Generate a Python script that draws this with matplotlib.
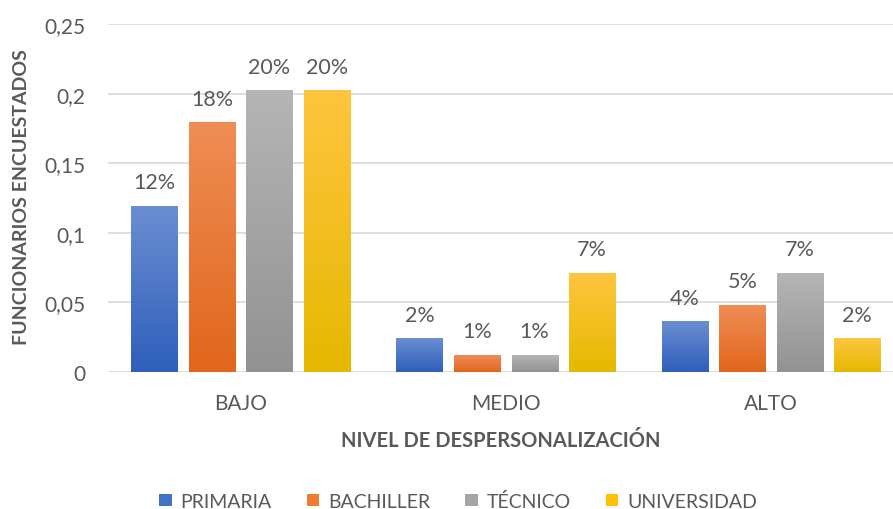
import numpy as np
import matplotlib
matplotlib.use('Agg')
import matplotlib.pyplot as plt
from matplotlib.colors import LinearSegmentedColormap
from matplotlib.ticker import FuncFormatter
from matplotlib.patches import Patch

plt.rcParams['font.family'] = ['Lato', 'DejaVu Sans']

categories = ['BAJO', 'MEDIO', 'ALTO']
series = ['PRIMARIA', 'BACHILLER', 'TÉCNICO', 'UNIVERSIDAD']
values = {
    'PRIMARIA': [0.119, 0.024, 0.036],
    'BACHILLER': [0.179, 0.012, 0.048],
    'TÉCNICO': [0.202, 0.012, 0.071],
    'UNIVERSIDAD': [0.202, 0.071, 0.024],
}
labels = {
    'PRIMARIA': ['12%', '2%', '4%'],
    'BACHILLER': ['18%', '1%', '5%'],
    'TÉCNICO': ['20%', '1%', '7%'],
    'UNIVERSIDAD': ['20%', '7%', '2%'],
}

# (bottom, top) gradient colours, plus legend colour
grad = {
    'PRIMARIA': ('#2e5fbb', '#6b8ed2'),
    'BACHILLER': ('#e0661b', '#f08d56'),
    'TÉCNICO': ('#929292', '#b5b5b5'),
    'UNIVERSIDAD': ('#e5b800', '#ffc53f'),
}
legend_col = {
    'PRIMARIA': '#4472c4',
    'BACHILLER': '#ed7d31',
    'TÉCNICO': '#a5a5a5',
    'UNIVERSIDAD': '#ffc000',
}

txt = '#595959'
fig = plt.figure(figsize=(8.93, 5.10), dpi=100)
ax = fig.add_axes([0.121, 0.2686, 0.879, 0.6824])

x = np.arange(len(categories))
w = 0.174
step = 0.217
gradient = np.linspace(0, 1, 256).reshape(-1, 1)

for i, s in enumerate(series):
    pos = x + (i - 1.5) * step
    bars = ax.bar(pos, values[s], w, color='none', zorder=3)
    cmap = LinearSegmentedColormap.from_list(s, grad[s])
    for b, lab in zip(bars, labels[s]):
        bx, by = b.get_xy()
        ax.imshow(gradient, cmap=cmap, origin='lower', aspect='auto',
                  extent=[bx, bx + b.get_width(), 0, b.get_height()], zorder=3)
        ax.annotate(lab, (bx + b.get_width() / 2, b.get_height()),
                    xytext=(0, 10), textcoords='offset points',
                    ha='center', va='bottom', fontsize=15.5, color=txt)

ax.set_xlim(-0.5, 2.46)
ax.set_ylim(0, 0.25)
ax.set_yticks([0, 0.05, 0.1, 0.15, 0.2, 0.25])
ax.yaxis.set_major_formatter(FuncFormatter(lambda v, p: ('%g' % round(v, 2)).replace('.', ',')))
ax.set_xticks(x)
ax.set_xticklabels(categories)
ax.tick_params(length=0, labelsize=15, colors=txt)
ax.tick_params(axis='x', pad=15)
ax.tick_params(axis='y', pad=16)
ax.grid(axis='y', color='#d9d9d9', linewidth=1.2, zorder=0)
for sp in ax.spines.values():
    sp.set_visible(False)

ax.set_xlabel('NIVEL DE DESPERSONALIZACIÓN', fontsize=14.5, fontweight='bold',
              color=txt, labelpad=12)
fig.text(22 / 893, 1 - 197 / 510, 'FUNCIONARIOS ENCUESTADOS', rotation=90,
         ha='center', va='center', fontsize=14, fontweight='bold', color=txt)

handles = [Patch(facecolor=legend_col[s], label=s) for s in series]
fig.legend(handles=handles, loc='center', bbox_to_anchor=(0.513, 0.016),
           ncol=4, frameon=False, fontsize=14, labelcolor=txt, borderpad=0.1,
           handlelength=0.65, handleheight=0.65, handletextpad=0.45, columnspacing=1.8)

plt.savefig('out.png', dpi=100)
